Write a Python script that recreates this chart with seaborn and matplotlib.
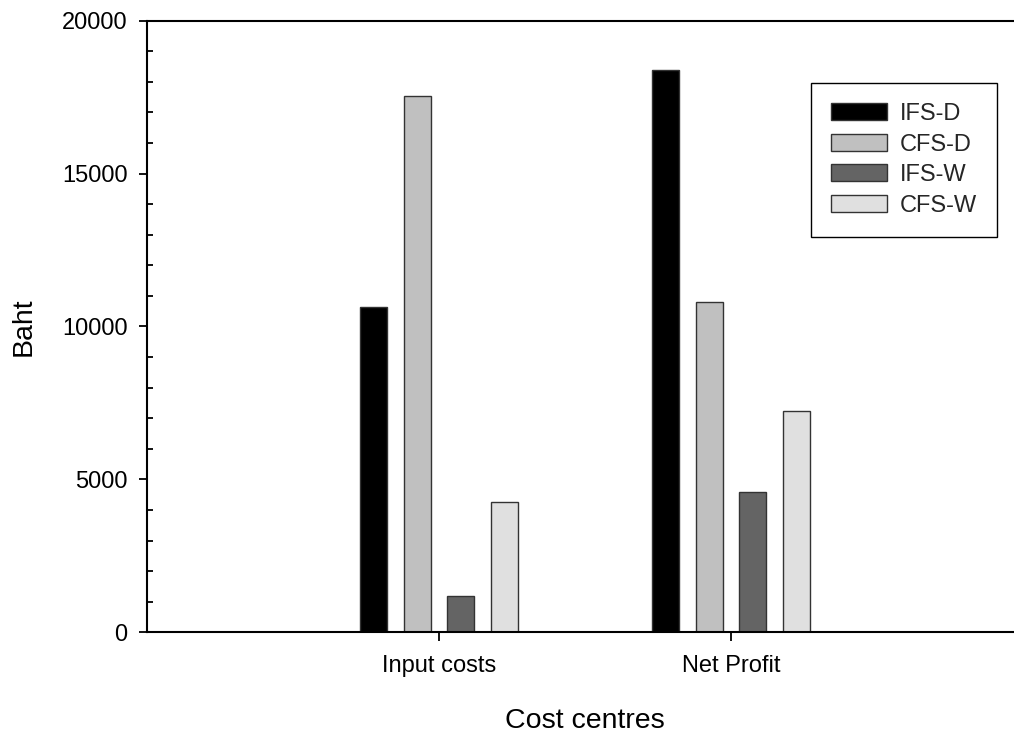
import matplotlib
matplotlib.use("Agg")
import matplotlib.pyplot as plt
from matplotlib.ticker import MultipleLocator
import pandas as pd
import seaborn as sns

# Data
centres = ["Input costs", "Net Profit"]
systems = ["IFS-D", "CFS-D", "IFS-W", "CFS-W"]
ifs_d = [10650, 18400]
cfs_d = [17540, 10810]
ifs_w = [1200, 4600]
cfs_w = [4270, 7240]
colors = ["#000000", "#c0c0c0", "#646464", "#e0e0e0"]

series = {"IFS-D": ifs_d, "CFS-D": cfs_d, "IFS-W": ifs_w, "CFS-W": cfs_w}
rows = []
for s in systems:
    for c, v in zip(centres, series[s]):
        rows.append({"centre": c, "system": s, "value": v})
df = pd.DataFrame(rows)

sns.set_theme(style="white")
plt.rcParams["font.family"] = ["Liberation Sans", "DejaVu Sans"]

fig = plt.figure(figsize=(10.14, 7.34), dpi=100)
ax = fig.add_axes([147 / 1014, (734 - 632.3) / 734, 876 / 1014, 611.6 / 734])

sns.barplot(data=df, x="centre", y="value", hue="system", order=centres,
            hue_order=systems, palette=colors, width=0.6, gap=0.38,
            edgecolor="#333333", linewidth=1.0, saturation=1, ax=ax)

ax.set_xlim(-1, 2)
ax.set_ylim(0, 20000)
ax.yaxis.set_major_locator(MultipleLocator(5000))
ax.yaxis.set_minor_locator(MultipleLocator(1000))

for side in ["left", "bottom", "top"]:
    ax.spines[side].set_visible(True)
    ax.spines[side].set_color("black")
    ax.spines[side].set_linewidth(1.5)
ax.spines["right"].set_visible(False)

ax.tick_params(axis="y", which="major", direction="out", length=6, width=1.3,
               color="black", labelsize=17, pad=8, left=True)
ax.tick_params(axis="y", which="minor", direction="in", length=4.5, width=1.3,
               color="black", left=True)
ax.tick_params(axis="x", which="major", direction="out", length=6.5, width=1.3,
               color="black", labelsize=17, pad=10, bottom=True)
for lab in ax.get_xticklabels() + ax.get_yticklabels():
    lab.set_color("black")

ax.set_xlabel("Cost centres", fontsize=20.5, color="black", labelpad=22)
ax.set_ylabel("Baht", fontsize=20.5, color="black", labelpad=18)

handles, labels = ax.get_legend_handles_labels()
leg = ax.legend(handles, labels, loc="upper left",
                bbox_to_anchor=((811 - 147) / 876, (632.3 - 83) / 611.6),
                borderaxespad=0, fontsize=17, frameon=True, fancybox=False,
                shadow=False, handlelength=2.35, handleheight=0.72,
                handletextpad=0.55, labelspacing=0.36, borderpad=0.85)
leg.get_frame().set_edgecolor("black")
leg.get_frame().set_linewidth(1.0)
leg.get_frame().set_alpha(1)

fig.savefig("out.png", dpi=100)
